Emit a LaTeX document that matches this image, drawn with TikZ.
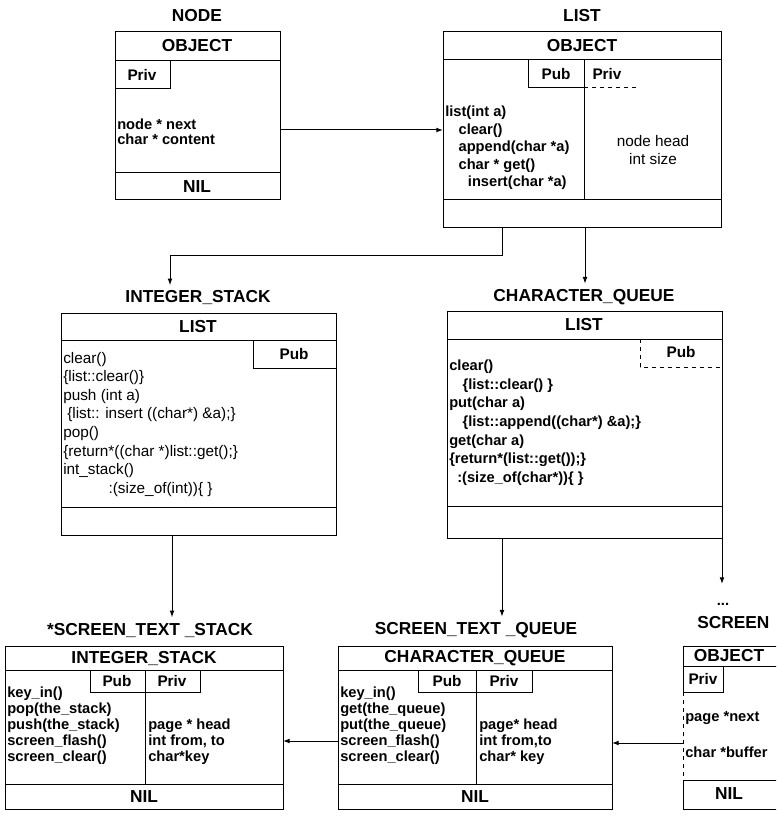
\documentclass[tikz,border=0pt]{standalone}
\usepackage{fontspec}
\setmainfont{Liberation Sans}
\usetikzlibrary{positioning, arrows.meta, calc, fit}

\tikzset{
  classbox/.style={draw, line width=0.75pt, inner sep=0pt, outer sep=0pt},
  rule/.style={line width=0.75pt},
  title/.style={font=\fontsize{13pt}{15pt}\selectfont\bfseries, inner sep=4pt},
  tag/.style={font=\fontsize{11.5pt}{13pt}\selectfont\bfseries, inner sep=0pt},
  body/.style={anchor=north west, align=left, inner sep=0pt,
    font=\fontsize{11pt}{#1}\selectfont\bfseries},
  body/.default=13.9pt,
  bodyreg/.style={anchor=north west, align=left, inner sep=0pt,
    font=\fontsize{11.5pt}{#1}\selectfont},
  bodyreg/.default=13.9pt,
  arr/.style={-{Latex[length=5pt, width=3.6pt]}, line width=0.75pt},
}

\begin{document}
\begin{tikzpicture}[x=0.75pt, y=-0.75pt]
  \fill[white] (0,0) rectangle (776,816);
  \clip (0,0) rectangle (776,816);

  % NODE
  \node[title] (nodeT) at (197,16) {NODE};
  \node[classbox, fit={(115,32) (280,200)}] (nodebox) {};
  \node[title] (nodeO) at (197,46) {OBJECT};
  \draw[rule] (115,61) -- (280,61)  (115,173) -- (280,173);
  \draw[rule] (115,89) -| (170,61);
  \node[tag] (nodeP) at (142,75) {Priv};
  \node[body=11.3pt] (nodeB) at (117,119) {node * next\\char * content};
  \node[title] (nodeN) at (197,187) {NIL};

  % LIST
  \node[title] (listT) at (582,16) {LIST};
  \node[classbox, fit={(443,32) (721,228)}] (listbox) {};
  \node[title] (listO) at (582,46) {OBJECT};
  \draw[rule] (443,60) -- (721,60)  (443,200) -- (721,200);
  \draw[rule] (528,60) |- (584,88);
  \draw[rule] (584,60) -- (584,200);
  \draw[rule, dashed] (584,88) -- (638,88);
  \node[tag] (listPu) at (556,74) {Pub};
  \node[tag] (listPr) at (607,74) {Priv};
  \node[body=13.1pt] (listB) at (445,106) {list(int a)\\
    \hspace*{10pt}clear()\\
    \hspace*{10pt}append(char *a)\\
    \hspace*{10pt}char * get()\\
    \hspace*{17pt}insert(char *a)};
  \node[bodyreg=14.2pt, anchor=center, align=center] (listR) at (653,150) {node head\\int size};

  % INTEGER_STACK
  \node[title] (istackT) at (198,298) {INTEGER\_STACK};
  \node[classbox, fit={(61,313) (336,535)}] (istack) {};
  \node[title] (istackL) at (198,327) {LIST};
  \draw[rule] (61,340) -- (336,340)  (61,507) -- (336,507);
  \draw[rule] (253,340) |- (336,368);
  \node[tag] (istackP) at (294,354) {Pub};
  \node[bodyreg] (istackB) at (63,352) {clear()\\
    \{list::clear()\}\\
    push (int a)\\
    \hspace*{3pt}\{list:: insert ((char*) \&a);\}\\
    pop()\\
    \{return*((char *)list::get();\}\\
    int\_stack()\\
    \hspace*{34pt}:(size\_of(int))\{ \}};

  % CHARACTER_QUEUE
  \node[title] (cqueueT) at (584,297) {CHARACTER\_QUEUE};
  \node[classbox, fit={(447,311) (722,538)}] (cqueue) {};
  \node[title] (cqueueL) at (584,325) {LIST};
  \draw[rule] (447,339) -- (722,339)  (447,506) -- (722,506);
  \draw[rule, dashed] (640,339) |- (722,367);
  \node[tag] (cqueueP) at (681,352) {Pub};
  \node[body] (cqueueB) at (449,360) {clear()\\
    \hspace*{10pt}\{list::clear() \}\\
    put(char a)\\
    \hspace*{10pt}\{list::append((char*) \&a);\}\\
    get(char a)\\
    \{return*(list::get());\}\\
    \hspace*{6pt}:(size\_of(char*))\{ \}};

  % *SCREEN_TEXT_STACK
  \node[title] (sstackT) at (150,630) {*SCREEN\_TEXT \_STACK};
  \node[classbox, fit={(5,646) (283,809)}] (sstack) {};
  \node[title] (sstackL) at (144,658) {INTEGER\_STACK};
  \draw[rule] (5,670) -- (283,670)  (5,784) -- (283,784);
  \draw[rule] (90,670) |- (200,692) -- (200,670);
  \draw[rule] (145,670) -- (145,784);
  \node[tag] (sstackPu) at (117,681) {Pub};
  \node[tag] (sstackPr) at (172,681) {Priv};
  \node[body=12pt] (sstackB) at (7,687) {key\_in()\\pop(the\_stack)\\push(the\_stack)\\screen\_flash()\\screen\_clear()};
  \node[body=12pt] (sstackR) at (148,719) {page * head\\int from, to\\char*key};
  \node[title] (sstackN) at (144,797) {NIL};

  % SCREEN_TEXT_QUEUE
  \node[title] (squeueT) at (476,630) {SCREEN\_TEXT \_QUEUE};
  \node[classbox, fit={(338,646) (612,809)}] (squeue) {};
  \node[title] (squeueL) at (475,658) {CHARACTER\_QUEUE};
  \draw[rule] (338,670) -- (612,670)  (338,784) -- (612,784);
  \draw[rule] (418,670) |- (532,692) -- (532,670);
  \draw[rule] (476,670) -- (476,784);
  \node[tag] (squeuePu) at (447,681) {Pub};
  \node[tag] (squeuePr) at (504,681) {Priv};
  \node[body=12pt] (squeueB) at (340,687) {key\_in()\\get(the\_queue)\\put(the\_queue)\\screen\_flash()\\screen\_clear()};
  \node[body=12pt] (squeueR) at (479,719) {page* head\\int from,to\\char* key};
  \node[title] (squeueN) at (475,797) {NIL};

  % SCREEN (cut at the right edge)
  \node[font=\fontsize{11pt}{13pt}\selectfont\bfseries, inner xsep=0pt, inner ysep=14pt] (dots) at (723,604) {...};
  \node[title, anchor=west, inner sep=0pt] (screenT) at (697,623) {SCREEN};
  \node[fit={(683,646) (790,809)}, inner sep=0pt] (screen) {};
  \draw[rule] (790,646) -| (683,692);
  \draw[rule, dashed] (683,692) -- (683,780);
  \draw[rule] (683,780) |- (790,809);
  \draw[rule] (683,666) -- (790,666)  (683,780) -- (790,780);
  \draw[rule] (683,692) -| (723,666);
  \node[tag] (screenP) at (703,679) {Priv};
  \node[title] (screenO) at (729,656) {OBJECT};
  \node[body] (screenB) at (685,711) {page *next\\[13pt]char *buffer};
  \node[title] (screenN) at (729,794) {NIL};

  % connectors
  \draw[arr] (nodebox.east |- 0,130) -- (listbox.west |- 0,130);
  \draw[arr] (listbox.south -| 502,0) |- (170,256) -- (istackT.north -| 170,0);
  \draw[arr] (listbox.south -| 585,0) -- (cqueueT.north -| 585,0);
  \draw[arr] (istack.south -| 172,0) -- (sstackT.north -| 172,0);
  \draw[arr] (cqueue.south -| 502,0) -- (squeueT.north -| 502,0);
  \draw[arr] (cqueue.south east) -- (dots.north -| cqueue.east);
  \draw[arr] (screen.west |- 0,743) -- (squeue.east |- 0,743);
  \draw[arr] (squeue.west |- 0,741) -- (sstack.east |- 0,741);
\end{tikzpicture}
\end{document}
